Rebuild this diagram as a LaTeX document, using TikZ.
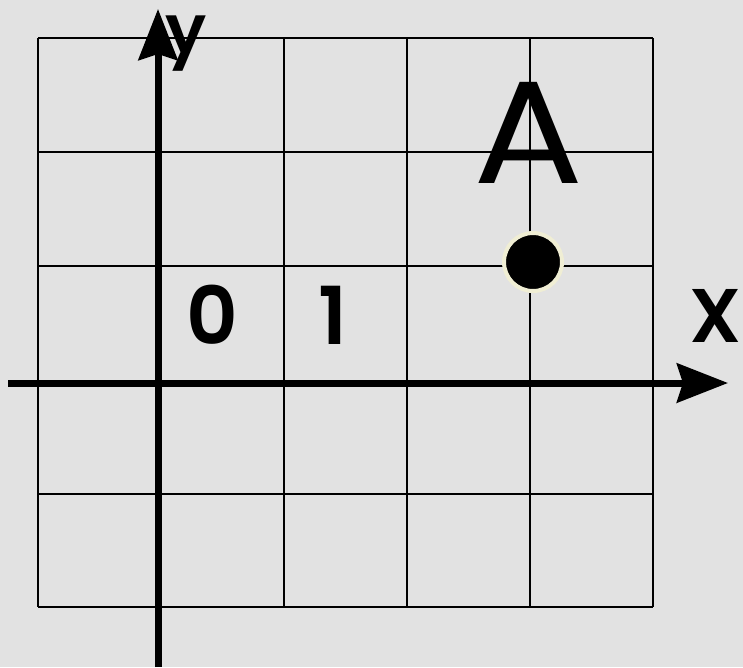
\documentclass[tikz,border=0pt]{standalone}
\usepackage{fontspec}
\setmainfont{Poppins}
\newfontfamily\semifont{Poppins SemiBold}
\usetikzlibrary{arrows.meta}
\definecolor{paper}{RGB}{226,226,226}
\definecolor{halo}{RGB}{240,238,212}

\begin{document}
\begin{tikzpicture}[x=1pt, y=-1pt,
    gridline/.style={line width=2pt},
    axis/.style={line width=7pt, -{Stealth[length=51pt, width=39pt, inset=6pt]}},
    biglabel/.style={inner sep=0pt, anchor=base, font={\semifont\fontsize{80}{80}\selectfont}},
    pointdot/.style={circle, fill=black, draw=halo, line width=4pt, minimum size=58pt, inner sep=0pt}]
                        % Background and frame:
                        \fill[paper] (0, 0) rectangle (743, 667);
                        \useasboundingbox (0, 0) rectangle (743, 667);
                        % Grid:
                        \draw[gridline] (38, 38) -- (38, 607);
                        \draw[gridline] (158, 38) -- (158, 607);
                        \draw[gridline] (284, 38) -- (284, 607);
                        \draw[gridline] (407, 38) -- (407, 607);
                        \draw[gridline] (530, 38) -- (530, 607);
                        \draw[gridline] (653, 38) -- (653, 607);
                        \draw[gridline] (38, 38) -- (653, 38);
                        \draw[gridline] (38, 152) -- (653, 152);
                        \draw[gridline] (38, 266) -- (653, 266);
                        \draw[gridline] (38, 383) -- (653, 383);
                        \draw[gridline] (38, 494) -- (653, 494);
                        \draw[gridline] (38, 607) -- (653, 607);
                        % Axes:
                        \coordinate (X0) at (8, 383);
                        \coordinate (X1) at (728, 383);
                        \coordinate (Y0) at (158, 667);
                        \coordinate (Y1) at (158, 9);
                        \draw[axis] (X0) -- (X1);
                        \draw[axis] (Y0) -- (Y1);
                        % Point and labels:
                        \node[pointdot](PA) at (533, 262){};
                        \node[biglabel, xscale=1.12, font={\fontsize{146}{146}\selectfont}](LA) at (529, 183){A};
                        \node[biglabel, font={\semifont\fontsize{68}{68}\selectfont}](LY) at (186, 53){y};
                        \node[biglabel, font={\semifont\fontsize{76}{76}\selectfont}](LX) at (716, 342){X};
                        \node[biglabel](L0) at (212, 344){0};
                        \node[biglabel](L1) at (333, 344){1};
                    \end{tikzpicture}
\end{document}
